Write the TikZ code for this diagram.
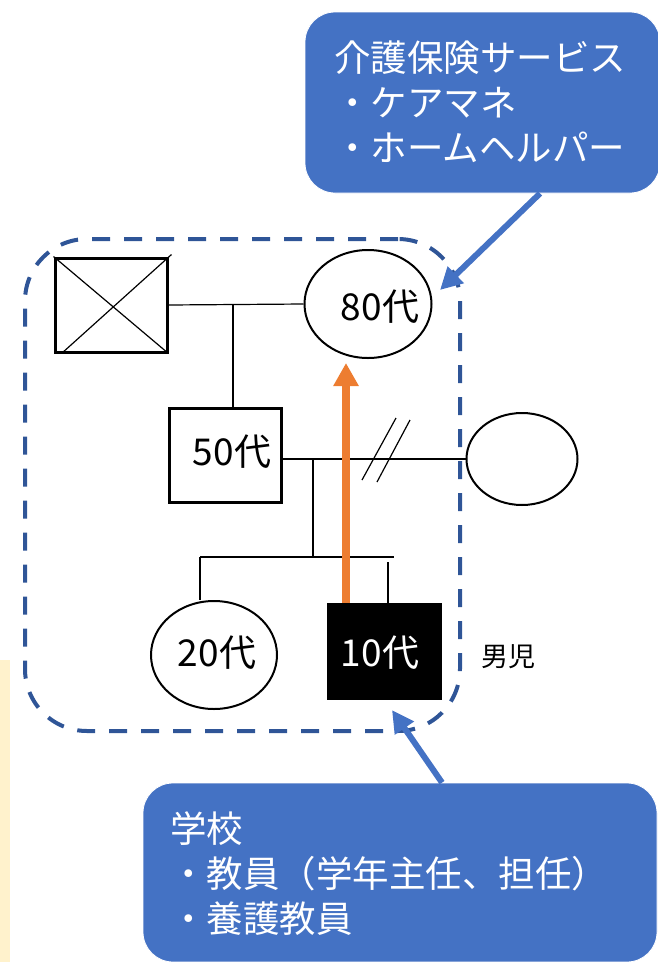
\documentclass[tikz,border=0pt]{standalone}
\usepackage{fontspec}
\setmainfont{Noto Sans CJK JP}
\usetikzlibrary{shapes.geometric,arrows.meta,calc}
\definecolor{callblue}{HTML}{4472C4}
\definecolor{dashblue}{HTML}{2F5597}
\definecolor{arrorange}{HTML}{ED7D31}
\definecolor{paleyellow}{HTML}{FFF2CC}
\begin{document}
\begin{tikzpicture}[x=1pt,y=-1pt,
 thinline/.style={line width=1.2pt, draw=black},
 person/.style={draw=black, line width=2pt, inner sep=0pt},
 boxperson/.style={draw=black, line width=3pt, inner sep=0pt},
 agetext/.style={font=\fontsize{37pt}{42pt}\selectfont, inner sep=0pt},
 callout/.style={fill=callblue, draw=white, line width=0.8pt, rounded corners=30pt, inner sep=0pt},
 calltext/.style={text=white, font=\fontsize{36.5pt}{45pt}\selectfont, align=left, anchor=west, inner sep=0pt},
 bluearrow/.style={draw=callblue, line width=6pt, -{Triangle[width=22pt,length=22pt]}},
 orangearrow/.style={draw=arrorange, line width=8pt, -{Triangle[width=24pt,length=23pt]}}
]
\useasboundingbox (0,0) rectangle (657,962);
% pale strip on the left
\fill[paleyellow] (0,660) rectangle (10,962);

% family boundary
\node[draw=dashblue, line width=4pt, dash pattern=on 18pt off 14pt, rounded corners=62pt,
      minimum width=435pt, minimum height=492pt, inner sep=0pt] (family) at (242.5,485) {};

% grandfather (deceased)
\node[boxperson, minimum width=112pt, minimum height=94pt] (gf) at (111,305) {};
\draw[thinline] (gf.north west) -- (gf.south east);
\draw[thinline] ($(gf.south west)+(8,0)$) -- ($(gf.north east)+(3,-2)$);

% grandmother 80s
\node[person, ellipse, minimum width=127pt, minimum height=108pt] (g80) at (368,304) {};
\node[agetext] (g80t) at (380,307) {80代};

% father 50s
\node[boxperson, minimum width=112pt, minimum height=94pt] (g50) at (225,455) {};
\node[agetext] (g50t) at (232,452) {50代};

% ex-wife
\node[person, ellipse, minimum width=111pt, minimum height=92pt] (wife) at (522,459) {};

% 20s
\node[person, ellipse, minimum width=126pt, minimum height=108pt] (g20) at (214,655) {};
\node[agetext] (g20t) at (217,653) {20代};

% 10s (boy)
\node[fill=black, draw=black, minimum width=114pt, minimum height=96pt, inner sep=0pt] (g10) at (384,651) {};
\node[agetext, text=white] (g10t) at (380,653) {10代};
\node[font=\fontsize{27pt}{30pt}\selectfont, inner sep=0pt] (boy) at (508,657) {男児};

% marriage line grandparents
\draw[thinline] (gf.east) -- (g80.west);
\coordinate (m1) at (233,305);
\draw[thinline] (m1) -- (m1 |- g50.north);

% marriage line parents (divorced)
\draw[thinline] (g50.east |- wife.west) -- (wife.west);
\draw[thinline] (362,480) -- (396,418);
\draw[thinline] (377,482) -- (410,420);

% children
\coordinate (m2) at (313,459);
\coordinate (s1) at (200,557);
\coordinate (s2) at (394,557);
\draw[thinline] (m2) -- (m2 |- s1);
\draw[thinline] (s1) -- (s2);
\draw[thinline] (s1) -- (s1 |- g20.north);
\coordinate (s3) at (388,562);
\draw[thinline] (s3) -- (s3 |- g10.north);

% orange arrow from boy to grandmother
\draw[orangearrow] ($(g10.north)+(-38,0)$) -- ($(g80.south)+(-22,4)$);

% care service callout
\node[callout, minimum width=355pt, minimum height=181pt] (kaigo) at (482.5,102.5) {};
\node[calltext] (kaigot) at (334,102) {介護保険サービス\\・ケアマネ\\・ホームヘルパー};
\coordinate (t1) at (440,290);
\draw[bluearrow] (kaigo.south -| 540,0) -- (t1);

% school callout
\node[callout, minimum width=514pt, minimum height=179pt] (school) at (400,872.5) {};
\node[calltext] (schoolt) at (170,874) {学校\\・教員（学年主任、担任）\\・養護教員};
\coordinate (t2) at (392,710);
\draw[bluearrow] (school.north -| 442,0) -- (t2);
\end{tikzpicture}
\end{document}
